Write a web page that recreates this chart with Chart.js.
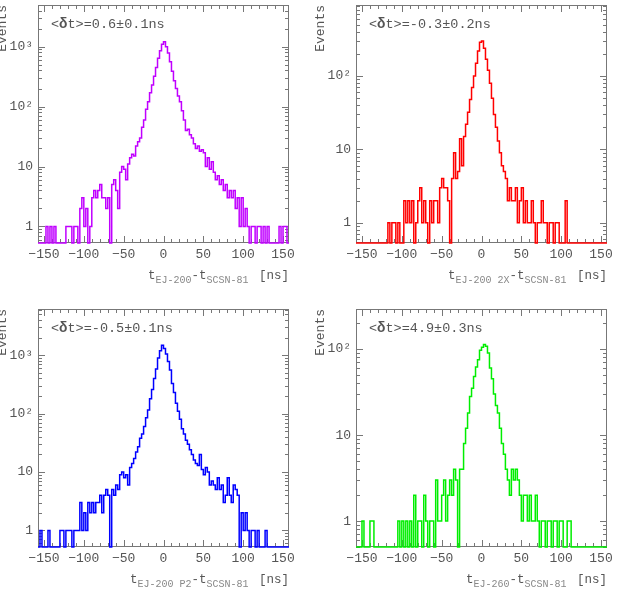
<!DOCTYPE html>
<html>
<head>
<meta charset="utf-8">
<script src="https://cdn.jsdelivr.net/npm/chart.js@4.4.0/dist/chart.umd.min.js"></script>
<style>
  body { margin: 0; background: #fff; }
  #wrap { position: relative; width: 618px; height: 590px; }
  canvas { position: absolute; }
</style>
</head>
<body>
<div id="wrap">
  <canvas id="c0" width="309" height="295" style="left:0;top:0"></canvas>
  <canvas id="c1" width="309" height="295" style="left:309px;top:0"></canvas>
  <canvas id="c2" width="309" height="295" style="left:0;top:295px"></canvas>
  <canvas id="c3" width="309" height="295" style="left:309px;top:295px"></canvas>
</div>
<script>
// histogram binning: 126 bins of 2.5 ns starting at -157.5 ns
var binLow = -157.5;
var binWidth = 2.5;
var xTickValues = [-150, -100, -50, 0, 50, 100, 150];

// counts per bin
var countsEJ200 = [
  0,0,0,0,1,0,1,0,1,0,
  0,0,0,0,1,1,1,0,1,1,
  0,2,3,1,2,0,1,3,4,3,
  4,5,3,3,2,3,0,5,6,4,
  2,8,10,9,6,11,14,16,15,22,
  26,30,45,60,90,120,170,230,320,450,
  640,850,1100,1210,1000,780,560,390,270,200,
  150,120,85,60,40,42,34,30,24,20,
  22,18,19,17,10,14,9,12,8,6,
  7,5,6,4,5,3,4,3,4,2,
  3,1,3,1,2,1,0,1,1,0,
  1,1,0,1,0,1,0,0,0,0,
  0,1,0,1,1,0
];
var countsEJ200x2 = [
  0,0,0,0,0,0,0,0,0,0,
  0,0,0,0,0,0,1,0,1,1,
  0,1,0,0,2,1,2,1,2,0,
  1,2,3,1,2,1,0,2,1,2,
  2,1,3,4,3,3,2,0,4,9,
  4,5,14,6,15,22,32,48,70,100,
  150,220,290,300,240,170,120,80,50,30,
  20,13,9,6,5,4,2,3,2,2,
  3,1,2,3,1,2,1,1,2,1,
  0,1,1,2,1,1,0,1,1,0,
  1,1,0,0,0,2,0,0,0,0,
  0,0,0,0,0,0,0,0,0,0,
  0,0,0,0,0,0
];
var countsEJ200P2 = [
  0,1,0,0,0,1,0,0,0,0,
  0,1,1,0,1,1,1,0,1,1,
  1,3,1,2,1,3,2,3,2,3,
  3,4,2,4,5,4,0,5,4,6,
  5,9,10,8,9,6,12,14,17,22,
  27,38,45,60,85,115,180,260,400,580,
  900,1200,1480,1300,1050,780,560,330,230,150,
  110,80,55,45,35,30,24,20,16,14,
  13,20,11,9,12,10,6,7,6,5,
  8,5,6,3,4,8,4,3,6,5,
  4,0,2,1,2,1,0,1,1,0,
  1,0,0,0,1,0,0,0,0,0,
  0,0,0,0,0,0
];
var countsEJ260 = [
  0,0,0,1,0,0,0,1,1,0,
  0,0,0,0,0,0,0,0,0,0,
  0,1,0,1,0,1,0,1,0,2,
  0,1,1,0,2,1,0,1,1,0,
  3,1,1,2,3,1,2,3,2,4,
  3,0,4,4,8,12,18,28,35,48,
  62,75,97,105,113,108,90,60,45,30,
  22,18,12,8,6,4,3,2,4,3,
  4,3,2,1,2,2,1,2,1,1,
  2,1,0,1,1,0,1,1,0,1,
  1,0,1,1,0,0,1,1,0,0,
  0,0,0,0,0,0,0,0,0,0,
  0,0,0,0,0,0
];

var meanTexts = ["=0.6\u00b10.1ns", "=-0.3\u00b10.2ns", "=-0.5\u00b10.1ns", "=4.9\u00b10.3ns"];
var subTexts = ["EJ-200", "EJ-200 2X", "EJ-200 P2", "EJ-260"];
var yMins = [0.53, 0.53, 0.52, 0.5];
var yMaxs = [4950, 930, 6200, 292];

var allCounts = [countsEJ200, countsEJ200x2, countsEJ200P2, countsEJ260];
var colors = ["#c000ff", "#ff0000", "#0000ff", "#00ee00"];
// chart area edges inside each 309x295 canvas
var frames = [
  { left: 38, right: 289, top: 5, bottom: 243 },
  { left: 47, right: 298, top: 5, bottom: 243 },
  { left: 38, right: 289, top: 14, bottom: 252 },
  { left: 47, right: 298, top: 14, bottom: 252 }
];

var FONT = '"Liberation Mono", "DejaVu Sans Mono", monospace';
var TEXT = '#555';

function supLabel(v) {
  if (v === 1) return '1';
  if (v === 10) return '10';
  if (v === 100) return '10\u00b2';
  if (v === 1000) return '10\u00b3';
  return '';
}

var rootStyle = {
  id: 'rootStyle',
  beforeDatasetsDraw: function(chart) {
    var ctx = chart.ctx, a = chart.chartArea;
    var xs = chart.scales.x, ys = chart.scales.y;
    ctx.save();
    ctx.strokeStyle = '#777';
    ctx.lineWidth = 1;
    ctx.strokeRect(a.left + 0.5, a.top + 0.5, a.right - a.left - 1, a.bottom - a.top - 1);
    ctx.beginPath();
    for (var t = -150; t <= 150; t += 10) {
      var px = Math.round(xs.getPixelForValue(t)) + 0.5;
      var len = (t % 50 === 0) ? 7 : 4;
      ctx.moveTo(px, a.bottom); ctx.lineTo(px, a.bottom - len);
      ctx.moveTo(px, a.top); ctx.lineTo(px, a.top + len);
    }
    for (var d = -1; d <= 4; d++) {
      for (var k = 1; k <= 9; k++) {
        var v = k * Math.pow(10, d);
        if (v < ys.min || v > ys.max) continue;
        var py = Math.round(ys.getPixelForValue(v)) + 0.5;
        var l2 = (k === 1) ? 7 : 4;
        ctx.moveTo(a.left, py); ctx.lineTo(a.left + l2, py);
        ctx.moveTo(a.right, py); ctx.lineTo(a.right - l2, py);
      }
    }
    ctx.stroke();
    ctx.restore();
  },
  afterDraw: function(chart, args, opts) {
    var ctx = chart.ctx, a = chart.chartArea;
    ctx.save();
    ctx.fillStyle = TEXT;
    ctx.textBaseline = 'middle';
    ctx.textAlign = 'left';

    // mean time difference
    var x = a.left + 13, y = a.top + 19;
    ctx.font = '13.5px ' + FONT;
    ctx.fillText('<', x, y); x += ctx.measureText('<').width;
    ctx.font = 'bold 14px ' + FONT;
    ctx.fillText('\u03b4', x, y); x += ctx.measureText('\u03b4').width;
    ctx.font = '13.5px ' + FONT;
    ctx.fillText('t>' + opts.mean, x, y);

    // x axis title with subscripts
    var parts = [
      { s: 't', sub: false }, { s: opts.sub, sub: true },
      { s: '-t', sub: false }, { s: 'SCSN-81', sub: true },
      { s: ' [ns]', sub: false }
    ];
    var mainFont = '12.5px ' + FONT, subFont = '10px ' + FONT;
    var total = 0;
    parts.forEach(function(p) {
      ctx.font = p.sub ? subFont : mainFont;
      p.w = ctx.measureText(p.s).width;
      total += p.w;
    });
    total += 3;
    var tx = a.right - total, ty = a.bottom + 33;
    parts.forEach(function(p) {
      ctx.font = p.sub ? subFont : mainFont;
      ctx.fillStyle = p.sub ? '#888' : TEXT;
      ctx.fillText(p.s, tx, p.sub ? ty + 4 : ty);
      tx += p.w + (p.s === 'SCSN-81' ? 3 : 0);
    });

    // y axis title
    ctx.fillStyle = TEXT;
    ctx.font = '13px ' + FONT;
    ctx.translate(a.left - 35, a.top);
    ctx.rotate(-Math.PI / 2);
    ctx.textAlign = 'right';
    ctx.fillText('Events', 0, 0);
    ctx.restore();
  }
};

function histPoints(counts, ymin) {
  var pts = counts.map(function(c, i) {
    return { x: binLow + i * binWidth, y: c > 0 ? c : ymin };
  });
  var last = counts[counts.length - 1];
  pts.push({ x: binLow + counts.length * binWidth, y: last > 0 ? last : ymin });
  return pts;
}

for (var p = 0; p < 4; p++) {
  (function(p) {
    var f = frames[p];
    var ymin = yMins[p], ymax = yMaxs[p];
    new Chart(document.getElementById('c' + p), {
      type: 'line',
      data: {
        datasets: [{
          data: histPoints(allCounts[p], ymin),
          borderColor: colors[p],
          borderWidth: 1.5,
          stepped: true,
          pointRadius: 0,
          fill: false,
          clip: false
        }]
      },
      options: {
        responsive: false,
        animation: false,
        devicePixelRatio: 1,
        layout: { autoPadding: false, padding: { left: 0, top: f.top, right: 309 - f.right, bottom: 0 } },
        plugins: {
          legend: { display: false },
          tooltip: { enabled: false },
          rootStyle: { mean: meanTexts[p], sub: subTexts[p] }
        },
        scales: {
          x: {
            type: 'linear',
            min: binLow,
            max: binLow + allCounts[p].length * binWidth,
            grid: { display: false, drawTicks: false },
            border: { display: false },
            afterBuildTicks: function(s) {
              s.ticks = xTickValues.map(function(v) { return { value: v }; });
            },
            afterFit: function(s) {
              s.height = 295 - f.bottom;
              s.paddingLeft = 0; s.paddingRight = 0;
            },
            ticks: {
              autoSkip: false,
              maxRotation: 0,
              padding: 4,
              color: TEXT,
              font: { family: FONT, size: 13 },
              callback: function(v) { return String(v).replace('-', '\u2212'); }
            }
          },
          y: {
            type: 'logarithmic',
            min: ymin,
            max: ymax,
            grid: { display: false, drawTicks: false },
            border: { display: false },
            afterBuildTicks: function(s) {
              s.ticks = [1, 10, 100, 1000].filter(function(v) {
                return v >= ymin && v <= ymax;
              }).map(function(v) { return { value: v }; });
            },
            afterFit: function(s) {
              s.width = f.left;
              s.paddingTop = 0; s.paddingBottom = 0;
            },
            ticks: {
              autoSkip: false,
              padding: 5,
              color: TEXT,
              font: { family: FONT, size: 13 },
              callback: function(v) { return supLabel(v); }
            }
          }
        }
      },
      plugins: [rootStyle]
    });
  })(p);
}
</script>
</body>
</html>
